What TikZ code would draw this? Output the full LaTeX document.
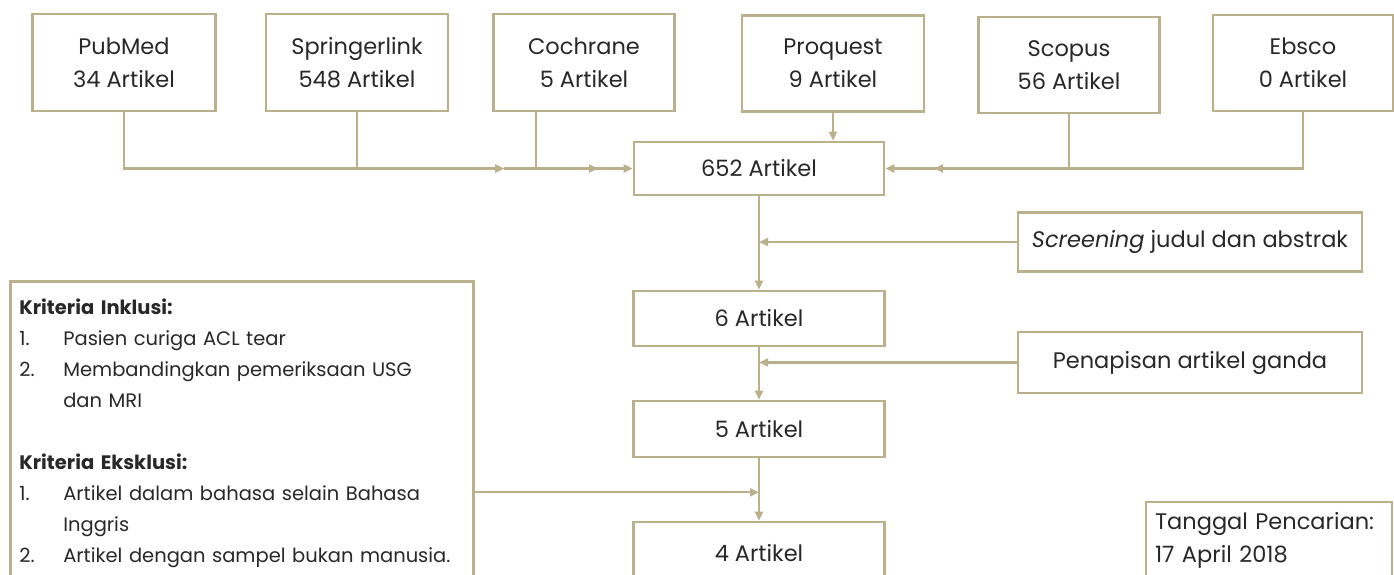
\documentclass[tikz,border=0pt]{standalone}
\usepackage{fontspec}
\setmainfont{Poppins}
\usetikzlibrary{arrows.meta,calc}
\definecolor{tan}{RGB}{186,176,140}
\definecolor{txt}{RGB}{40,40,40}
\begin{document}
\begin{tikzpicture}[x=1pt,y=-1pt,
  box/.style={draw=tan,line width=2.6pt,fill=white,text=txt,inner sep=0pt,align=center,
    font=\fontsize{22.5}{33}\selectfont},
  ln/.style={draw=tan,line width=2.2pt},
  arr/.style={ln,-{Triangle[length=9pt,width=8pt]}}]
\useasboundingbox (0,0) rectangle (1394,574);
\clip (0,0) rectangle (1394,574);
\fill[white] (0,0) rectangle (1394,574);
% sources
\node[box,minimum width=183pt,minimum height=97pt] (pub) at (124,62.5) {PubMed\\34 Artikel};
\node[box,minimum width=182pt,minimum height=97pt] (spr) at (357,62.5) {Springerlink\\548 Artikel};
\node[box,minimum width=181pt,minimum height=97pt] (coc) at (584,62.5) {Cochrane\\5 Artikel};
\node[box,minimum width=182pt,minimum height=96pt] (pro) at (833,63.5) {Proquest\\9 Artikel};
\node[box,minimum width=181pt,minimum height=96pt] (sco) at (1069,65) {Scopus\\56 Artikel};
\node[box,minimum width=180pt,minimum height=96pt] (ebs) at (1303,63) {Ebsco\\0 Artikel};
% flow boxes
\node[box,minimum width=250pt,minimum height=53pt] (a652) at (759,168.5) {652 Artikel};
\node[box,minimum width=251pt,minimum height=55pt] (a6) at (759,318.5) {6 Artikel};
\node[box,minimum width=251pt,minimum height=56pt] (a5) at (759,429) {5 Artikel};
\node[box,minimum width=251pt,minimum height=62pt] (a4) at (759,553) {4 Artikel};
\node[box,minimum width=344pt,minimum height=59pt] (scr) at (1190,242) {\textit{Screening} judul dan abstrak};
\node[box,minimum width=344pt,minimum height=61pt] (pen) at (1190,362.5) {Penapisan artikel ganda};
\node[box,minimum width=246pt,minimum height=76pt,align=left,text width=228pt] (tgl) at (1269,540) {Tanggal Pencarian:\\17 April 2018};
% criteria box
\node[box,anchor=north west,minimum width=463pt,minimum height=305pt,text width=445pt,align=left,
  font=\fontsize{19.5}{31}\selectfont] (crit) at (9,280) {%
\textbf{Kriteria Inklusi:}\\
\makebox[44pt][l]{1.}Pasien curiga ACL tear\\
\makebox[44pt][l]{2.}Membandingkan pemeriksaan USG\\
\hspace*{44pt}dan MRI\\[31pt]
\textbf{Kriteria Eksklusi:}\\
\makebox[44pt][l]{1.}Artikel dalam bahasa selain Bahasa\\
\hspace*{44pt}Inggris\\
\makebox[44pt][l]{2.}Artikel dengan sampel bukan manusia.};
% connectors: left sources
\coordinate (m1) at (504,168.5);
\coordinate (m2) at (598,168.5);
\coordinate (m3) at (934,168.5);
\draw[arr] (pub.south) |- (m1);
\draw[arr] (spr.south) |- (m1);
\draw[arr] (m1) -- (m2);
\draw[ln] ([xshift=-48pt]coc.south) |- (m2);
\draw[arr] (m2) -- (a652.west);
\draw[arr] (pro.south) -- (pro.south |- a652.north);
\draw[arr] (ebs.south) |- (m3);
\draw[ln] (sco.south) |- (m3);
\draw[arr] (m3) -- (a652.east);
% vertical flow
\draw[arr] (a652.south) -- (a6.north);
\draw[arr] (scr.west) -- (scr.west -| a652.south);
\draw[arr] (a6.south) -- (a5.north);
\draw[arr] (pen.west) -- (pen.west -| a6.south);
\draw[arr] (a5.south) -- (a4.north);
\draw[arr] ([yshift=-58.5pt]crit.east) -- ([yshift=-58.5pt]crit.east -| a5.south);
\end{tikzpicture}
\end{document}
